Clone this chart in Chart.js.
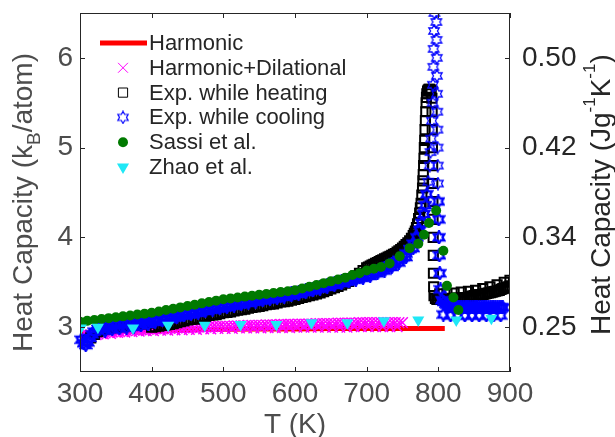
<!DOCTYPE html>
<html>
<head>
<meta charset="utf-8">
<script src="https://cdn.jsdelivr.net/npm/chart.js@4/dist/chart.umd.min.js"></script>
<style>
  html, body { margin: 0; padding: 0; background: #fff; }
</style>
</head>
<body>
<canvas id="chart" width="615" height="437"></canvas>
<script>
// Heat capacity vs temperature, kB/atom (left) and J/g/K (right)

const FONT = '"Liberation Sans", Arial, Helvetica, sans-serif';

// axis ticks
const xTicks = [300, 400, 500, 600, 700, 800, 900];
const yTicks = [3, 4, 5, 6];
const rightTickLabels = ['0.25', '0.34', '0.42', '0.50'];

// Harmonic (line)
const harmT = [300, 350, 400, 450, 500, 550, 600, 650, 700, 750, 809];
const harmC = [2.93, 2.95, 2.96, 2.97, 2.975, 2.98, 2.98, 2.985, 2.985, 2.985, 2.985];

// Harmonic+Dilational (two rows of the dense band)
const hdT = [300, 305, 310, 315, 320, 325, 330, 335, 340, 345, 350, 355, 360, 365, 370, 375, 380, 385, 390, 395,
  400, 405, 410, 415, 420, 425, 430, 435, 440, 445, 450, 455, 460, 465, 470, 475, 480, 485, 490, 495,
  500, 505, 510, 515, 520, 525, 530, 535, 540, 545, 550, 555, 560, 565, 570, 575, 580, 585, 590, 595,
  600, 605, 610, 615, 620, 625, 630, 635, 640, 645, 650, 655, 660, 665, 670, 675, 680, 685, 690, 695,
  700, 705, 710, 715, 720, 725, 730, 735, 740, 745, 750];
const hdC = [2.89, 2.90, 2.91, 2.915, 2.92, 2.925, 2.93, 2.935, 2.94, 2.945, 2.95, 2.95, 2.955, 2.96, 2.96, 2.965, 2.965, 2.97, 2.97, 2.975,
  2.975, 2.98, 2.98, 2.98, 2.985, 2.985, 2.985, 2.99, 2.99, 2.99, 2.995, 2.995, 2.995, 3.0, 3.0, 3.0, 3.005, 3.005, 3.005, 3.01,
  3.01, 3.01, 3.01, 3.015, 3.015, 3.015, 3.015, 3.02, 3.02, 3.02, 3.02, 3.02, 3.025, 3.025, 3.025, 3.025, 3.03, 3.03, 3.03, 3.03,
  3.03, 3.035, 3.035, 3.035, 3.035, 3.035, 3.04, 3.04, 3.04, 3.04, 3.04, 3.04, 3.045, 3.045, 3.045, 3.045, 3.045, 3.045, 3.05, 3.05,
  3.05, 3.05, 3.05, 3.05, 3.05, 3.05, 3.05, 3.05, 3.05, 3.05, 3.05];
const hdT2 = [302.5, 312.5, 322.5, 332.5, 342.5, 352.5, 362.5, 372.5, 382.5, 392.5, 402.5, 412.5, 422.5, 432.5, 442.5,
  452.5, 462.5, 472.5, 482.5, 492.5, 502.5, 512.5, 522.5, 532.5, 542.5, 552.5, 562.5, 572.5, 582.5, 592.5,
  602.5, 612.5, 622.5, 632.5, 642.5, 652.5, 662.5, 672.5, 682.5, 692.5, 702.5, 712.5, 722.5, 732.5, 742.5];
const hdC2 = [2.89, 2.905, 2.915, 2.925, 2.93, 2.94, 2.945, 2.95, 2.955, 2.96, 2.96, 2.965, 2.965, 2.97, 2.97,
  2.975, 2.975, 2.98, 2.98, 2.985, 2.985, 2.985, 2.99, 2.99, 2.99, 2.99, 2.995, 2.995, 2.995, 2.995,
  3.0, 3.0, 3.0, 3.0, 3.0, 3.0, 3.0, 3.0, 3.005, 3.005, 3.005, 3.005, 3.005, 3.005, 3.005];

// Exp. while heating
const heatT = [310, 315, 320, 325, 330, 335, 340, 345, 350, 355, 360, 365, 370, 375, 380, 385, 390, 395,
  400, 405, 410, 415, 420, 425, 430, 435, 440, 445, 450, 455, 460, 465, 470, 475, 480, 485, 490, 495,
  500, 505, 510, 515, 520, 525, 530, 535, 540, 545, 550, 555, 560, 565, 570, 575, 580, 585, 590, 595,
  600, 605, 610, 615, 620, 625, 630, 635, 640, 645, 650, 655, 660, 665, 670, 675, 680, 685, 690, 695,
  700, 705, 710, 715, 720, 725, 730, 735, 740, 745, 750, 755, 760, 765, 768, 771, 774, 776, 778, 779,
  780, 781, 782, 783, 784, 786, 788, 790, 791, 791.3, 791.5, 791.7, 792, 792.2, 792.4, 792.6, 792.8, 793, 793.2, 793.5,
  794, 796, 798, 800, 802.5, 805, 807.5, 810, 812.5, 815, 817.5, 820, 822.5, 825, 827.5, 830, 832.5, 835, 837.5, 840,
  842.5, 845, 847.5, 850, 852.5, 855, 857.5, 860, 862.5, 865, 867.5, 870, 872.5, 875, 877.5, 880, 882.5, 885, 887.5, 890,
  892.5, 895, 897.5, 900];
const heatC = [2.85, 2.88, 2.92, 2.95, 2.97, 2.98, 2.99, 2.995, 3.00, 3.005, 3.01, 3.015, 3.02, 3.025, 3.03, 3.035, 3.04, 3.045,
  3.00, 3.005, 3.01, 3.02, 3.025, 3.03, 3.04, 3.05, 3.06, 3.07, 3.08, 3.085, 3.09, 3.10, 3.11, 3.12, 3.13, 3.135, 3.14, 3.15,
  3.16, 3.165, 3.17, 3.18, 3.19, 3.195, 3.20, 3.21, 3.22, 3.225, 3.23, 3.24, 3.25, 3.255, 3.26, 3.27, 3.28, 3.285, 3.29, 3.30,
  3.31, 3.32, 3.33, 3.34, 3.35, 3.36, 3.37, 3.38, 3.395, 3.41, 3.425, 3.44, 3.455, 3.47, 3.49, 3.51, 3.54, 3.57, 3.60, 3.63,
  3.66, 3.68, 3.70, 3.72, 3.74, 3.76, 3.78, 3.80, 3.82, 3.85, 3.88, 3.92, 3.96, 4.02, 4.07, 4.15, 4.27, 4.38, 4.55, 4.70,
  4.88, 5.08, 5.30, 5.50, 5.60, 5.64, 5.65, 5.63, 5.55, 5.40, 5.20, 5.00, 4.80, 4.60, 4.40, 4.20, 4.00, 3.80, 3.60, 3.45,
  3.35, 3.32, 3.31, 3.31, 3.31, 3.31, 3.31, 3.31, 3.31, 3.31, 3.315, 3.32, 3.32, 3.32, 3.32, 3.32, 3.325, 3.33, 3.33, 3.33,
  3.335, 3.34, 3.345, 3.35, 3.355, 3.36, 3.36, 3.36, 3.365, 3.37, 3.375, 3.38, 3.385, 3.39, 3.395, 3.40, 3.405, 3.41, 3.42, 3.43,
  3.435, 3.44, 3.45, 3.46];
const heatT2 = [702.5, 707.5, 712.5, 717.5, 722.5, 727.5, 732.5, 737.5, 742.5, 747.5, 752.5, 757.5, 762.5, 766.5, 769.5,
  772.5, 775, 777, 778.5, 779.5, 780.5, 781.5, 782.5, 783.5, 785, 787, 789,
  802, 812, 822, 832, 842, 852, 862, 872, 882, 892, 900];
const heatC2 = [3.67, 3.69, 3.71, 3.73, 3.75, 3.77, 3.79, 3.81, 3.835, 3.865, 3.90, 3.94, 3.99, 4.045, 4.11,
  4.21, 4.33, 4.47, 4.63, 4.80, 5.0, 5.2, 5.4, 5.56, 5.63, 5.65, 5.64,
  3.37, 3.37, 3.38, 3.39, 3.40, 3.41, 3.43, 3.45, 3.47, 3.50, 3.52];

// Exp. while cooling
const coolT = [302, 305, 308, 311, 314, 317, 320, 325, 330, 335, 340, 345, 350, 355, 360, 365, 370, 375, 380, 385, 390, 395,
  400, 405, 410, 415, 420, 425, 430, 435, 440, 445, 450, 455, 460, 465, 470, 475, 480, 485, 490, 495,
  500, 505, 510, 515, 520, 525, 530, 535, 540, 545, 550, 555, 560, 565, 570, 575, 580, 585, 590, 595,
  600, 605, 610, 615, 620, 625, 630, 635, 640, 645, 650, 655, 660, 665, 670, 675, 680, 685, 690, 695,
  700, 705, 710, 715, 720, 725, 730, 735, 740, 745, 750, 755, 760, 765, 770, 774, 777, 780, 782, 784,
  786, 788, 789, 790, 791, 792, 792.5, 793, 793.5, 794, 794.5, 795,
  797, 797.2, 797.5, 797.8, 798, 798.2, 798.5, 798.7, 799, 799.2, 799.5, 800, 800.5, 801, 801.5, 802, 803,
  805, 807.5, 810, 812.5, 815, 817.5, 820, 822.5, 825, 827.5, 830, 832.5, 835, 837.5, 840, 842.5, 845, 847.5,
  850, 852.5, 855, 857.5, 860, 862.5, 865, 867.5, 870, 872.5, 875, 877.5, 880, 882.5, 885, 887.5, 890];
const coolC = [2.86, 2.82, 2.80, 2.83, 2.88, 2.92, 2.95, 2.98, 3.00, 3.01, 3.02, 3.025, 3.03, 3.035, 3.04, 3.045, 3.05, 3.055, 3.06, 3.065, 3.07, 3.075,
  3.08, 3.085, 3.09, 3.10, 3.105, 3.11, 3.12, 3.13, 3.14, 3.15, 3.16, 3.165, 3.17, 3.18, 3.19, 3.20, 3.21, 3.215, 3.22, 3.23,
  3.24, 3.245, 3.25, 3.26, 3.27, 3.275, 3.28, 3.29, 3.30, 3.305, 3.31, 3.32, 3.33, 3.335, 3.34, 3.345, 3.35, 3.36, 3.37, 3.375,
  3.38, 3.39, 3.40, 3.41, 3.42, 3.43, 3.44, 3.45, 3.46, 3.47, 3.48, 3.49, 3.50, 3.51, 3.52, 3.53, 3.54, 3.55, 3.56, 3.57,
  3.58, 3.595, 3.61, 3.625, 3.64, 3.66, 3.68, 3.70, 3.72, 3.75, 3.78, 3.82, 3.87, 3.93, 4.00, 4.08, 4.16, 4.26, 4.36, 4.48,
  4.62, 4.80, 4.95, 5.10, 5.30, 5.50, 5.70, 5.90, 6.10, 6.30, 6.50, 6.62,
  6.62, 6.40, 6.20, 6.00, 5.80, 5.60, 5.40, 5.20, 5.00, 4.80, 4.60, 4.40, 4.20, 4.00, 3.80, 3.60, 3.42,
  3.30, 3.28, 3.26, 3.25, 3.24, 3.235, 3.23, 3.225, 3.22, 3.22, 3.22, 3.22, 3.22, 3.22, 3.22, 3.22, 3.22, 3.22,
  3.22, 3.22, 3.22, 3.22, 3.22, 3.22, 3.22, 3.22, 3.22, 3.22, 3.22, 3.22, 3.22, 3.22, 3.22, 3.22, 3.22];
const coolT2 = [335, 345, 355, 365, 375, 385, 395, 405, 415, 425, 435, 445, 455, 465, 475, 485, 495,
  505, 515, 525, 535, 545, 555, 565, 575, 585, 595, 605, 615, 625, 635, 645, 655, 665, 675, 685, 695,
  705, 715, 725, 735, 745, 755, 765,
  807, 817, 827, 837, 847, 857, 867, 877, 887];
const coolC2 = [2.96, 2.975, 2.985, 2.995, 3.005, 3.02, 3.035, 3.06, 3.075, 3.09, 3.11, 3.13, 3.145, 3.16, 3.18, 3.195, 3.21,
  3.225, 3.24, 3.255, 3.27, 3.285, 3.30, 3.315, 3.325, 3.34, 3.355, 3.37, 3.39, 3.41, 3.43, 3.45, 3.47, 3.49, 3.51, 3.53, 3.55,
  3.57, 3.60, 3.63, 3.67, 3.72, 3.78, 3.88,
  3.14, 3.13, 3.13, 3.13, 3.13, 3.13, 3.13, 3.13, 3.13];

// Sassi et al.
const sassiT = [300, 310, 320, 330, 340, 350, 360, 370, 380, 390, 400, 410, 420, 430, 440, 450, 460, 470, 480, 490,
  500, 510, 520, 530, 540, 550, 560, 570, 580, 590, 600, 610, 620, 630, 640, 650, 660, 670, 680, 690,
  700, 710, 720, 732, 746, 760, 772, 780, 787, 797, 807, 812, 821, 828];
const sassiC = [3.06, 3.07, 3.08, 3.09, 3.10, 3.11, 3.12, 3.13, 3.14, 3.15, 3.16, 3.175, 3.19, 3.205, 3.22, 3.235, 3.25, 3.265, 3.28, 3.295,
  3.31, 3.32, 3.33, 3.34, 3.35, 3.36, 3.37, 3.38, 3.39, 3.40, 3.41, 3.43, 3.45, 3.47, 3.49, 3.51, 3.53, 3.55, 3.58, 3.60,
  3.63, 3.65, 3.67, 3.71, 3.79, 3.88, 3.93, 4.03, 4.16, 4.30, 3.85, 3.46, 3.33, 3.19];

// Zhao et al.
const zhaoT = [301, 325, 374, 423, 474, 524, 574, 623, 673, 724, 772, 825, 874];
const zhaoC = [2.99, 3.00, 2.99, 3.02, 3.02, 3.03, 3.03, 3.05, 3.05, 3.07, 3.08, 3.08, 3.10];

const pts = (xs, ys) => xs.map((x, i) => ({ x: x, y: ys[i] }));

// MATLAB-like hexagram marker (outline)
function makeHexagram(size, color, lw) {
    const c = document.createElement('canvas');
    c.width = size; c.height = size;
    const g = c.getContext('2d');
    const R = size / 2 - 1, r = R / Math.sqrt(3), cx = size / 2, cy = size / 2;
    g.beginPath();
    for (let i = 0; i < 12; i++) {
        const ang = -Math.PI / 2 + i * Math.PI / 6;
        const rad = i % 2 ? r : R;
        const px = cx + rad * Math.cos(ang), py = cy + rad * Math.sin(ang);
        if (i === 0) g.moveTo(px, py); else g.lineTo(px, py);
    }
    g.closePath();
    g.strokeStyle = color;
    g.lineWidth = lw;
    g.stroke();
    return c;
}
const starDense = makeHexagram(14, '#0000ff', 2.3);   // overlapping markers in the dense band
const starThin = makeHexagram(14, '#0000ff', 1.3);    // isolated markers in the peak column
const starStyle = c => (c.raw && c.raw.y > 4.5 ? starThin : starDense);

const datasets = [
    { label: 'Harmonic', data: pts(harmT, harmC), showLine: true, borderColor: '#ff0000', borderWidth: 5,
      pointRadius: 0, order: 6 },
    { label: 'Harmonic+Dilational', data: pts(hdT, hdC).concat(pts(hdT2, hdC2)), pointStyle: 'crossRot', pointRadius: 7.5,
      borderColor: '#ff00ff', backgroundColor: '#ff00ff', borderWidth: 1.5, order: 5 },
    { label: 'Exp. while heating', data: pts(heatT, heatC).concat(pts(heatT2, heatC2)), pointStyle: 'rect', pointRadius: 6.5,
      borderColor: '#000000', backgroundColor: 'rgba(0,0,0,0)', borderWidth: 2, order: 4 },
    { label: 'Exp. while cooling', data: pts(coolT, coolC).concat(pts(coolT2, coolC2)), pointStyle: starStyle, pointRadius: 7,
      borderColor: '#0000ff', backgroundColor: '#0000ff', order: 3,
      clip: { left: 10, right: 10, top: 0, bottom: 10 } },
    { label: 'Sassi et al.', data: pts(sassiT, sassiC), pointStyle: 'circle', pointRadius: 5,
      borderColor: '#007a00', backgroundColor: '#007a00', borderWidth: 0, order: 2 },
    { label: 'Zhao et al.', data: pts(zhaoT, zhaoC), pointStyle: 'triangle', rotation: 180, pointRadius: 7,
      borderColor: '#1fe8f6', backgroundColor: '#1fe8f6', borderWidth: 0, order: 1 }
];

// legend marker overrides (thin outlines as in the legend box)
const legendStyle = { 1: { borderWidth: 1, pointRadius: 7 }, 2: { borderWidth: 1 }, 3: { pointStyle: makeHexagram(14, '#0000ff', 1.2) } };

// text with sub/superscripts, drawn rotated, starting at (x0, y0)
function drawRich(ctx, parts, x0, y0, rot, color) {
    ctx.save();
    ctx.translate(x0, y0);
    ctx.rotate(rot);
    ctx.fillStyle = color;
    ctx.textBaseline = 'alphabetic';
    ctx.textAlign = 'left';
    let x = 0;
    parts.forEach(p => {
        ctx.font = p.size + 'px ' + FONT;
        ctx.fillText(p.text, x, p.dy || 0);
        x += ctx.measureText(p.text).width;
    });
    ctx.restore();
}

const overlay = {
    id: 'overlay',
    afterDraw(chart) {
        const ctx = chart.ctx;
        const a = chart.chartArea;
        const sx = chart.scales.x, sy = chart.scales.y;
        ctx.save();

        // box and inward ticks
        ctx.strokeStyle = '#262626';
        ctx.lineWidth = 1;
        ctx.strokeRect(a.left + 0.5, a.top + 0.5, a.right - a.left - 1, a.bottom - a.top - 1);
        ctx.beginPath();
        xTicks.forEach(v => {
            const px = Math.round(sx.getPixelForValue(v)) + 0.5;
            ctx.moveTo(px, a.bottom); ctx.lineTo(px, a.bottom - 5);
            ctx.moveTo(px, a.top); ctx.lineTo(px, a.top + 5);
        });
        yTicks.forEach(v => {
            const py = Math.round(sy.getPixelForValue(v)) + 0.5;
            ctx.moveTo(a.left, py); ctx.lineTo(a.left + 5, py);
            ctx.moveTo(a.right, py); ctx.lineTo(a.right - 5, py);
        });
        ctx.stroke();

        // axis titles
        drawRich(ctx, [
            { text: 'Heat Capacity (k', size: 28 },
            { text: 'B', size: 19, dy: 8 },
            { text: '/atom)', size: 28 }
        ], 32, 352, -Math.PI / 2, '#4d4d4d');
        drawRich(ctx, [
            { text: 'Heat Capacity (Jg', size: 28 },
            { text: '-1', size: 17, dy: -15 },
            { text: 'K', size: 28 },
            { text: '-1', size: 17, dy: -15 },
            { text: ')', size: 28 }
        ], 610, 335, -Math.PI / 2, '#262626');
        ctx.fillStyle = '#4d4d4d';
        ctx.font = '28px ' + FONT;
        ctx.textAlign = 'center';
        ctx.textBaseline = 'alphabetic';
        ctx.fillText('T (K)', (a.left + a.right) / 2, 433);

        // legend
        const lx = 123, tx = 149, ly0 = 43, step = 24.8;
        ctx.font = '22px ' + FONT;
        ctx.textAlign = 'left';
        ctx.textBaseline = 'middle';
        datasets.forEach((ds, i) => {
            const y = ly0 + i * step;
            const o = Object.assign({}, ds, legendStyle[i] || {});
            if (o.showLine) {
                ctx.strokeStyle = o.borderColor;
                ctx.lineWidth = o.borderWidth;
                ctx.beginPath();
                ctx.moveTo(100, y); ctx.lineTo(147, y);
                ctx.stroke();
            } else {
                ctx.strokeStyle = o.borderColor;
                ctx.fillStyle = o.pointStyle === 'rect' ? '#ffffff' : o.backgroundColor;
                ctx.lineWidth = o.borderWidth || 1;
                Chart.helpers.drawPoint(ctx, {
                    pointStyle: o.pointStyle, radius: o.pointRadius,
                    rotation: o.rotation || 0, borderWidth: o.borderWidth || 0
                }, lx, y);
            }
            ctx.fillStyle = '#262626';
            ctx.fillText(o.label, tx, y + 1);
        });
        ctx.restore();
    }
};

const noPad = s => { s.paddingTop = 0; s.paddingBottom = 0; s.paddingLeft = 0; s.paddingRight = 0; };
const setTicks = s => { s.ticks = yTicks.map(v => ({ value: v })); };

new Chart(document.getElementById('chart'), {
    type: 'scatter',
    data: { datasets: datasets },
    options: {
        responsive: false,
        animation: false,
        events: [],
        layout: { padding: { top: 13, left: 0, right: 0, bottom: 0 } },
        plugins: { legend: { display: false }, tooltip: { enabled: false } },
        scales: {
            x: {
                type: 'linear', position: 'bottom', min: 300, max: 900,
                ticks: { stepSize: 100, padding: 5, color: '#4d4d4d', font: { family: FONT, size: 28 } },
                grid: { display: false, drawTicks: false },
                border: { display: false },
                afterFit: s => { s.height = 65; noPad(s); }
            },
            y: {
                type: 'linear', position: 'left', min: 2.5, max: 6.5,
                afterBuildTicks: setTicks,
                ticks: { padding: 7, color: '#4d4d4d', font: { family: FONT, size: 28 } },
                grid: { display: false, drawTicks: false },
                border: { display: false },
                afterFit: s => { s.width = 80; noPad(s); }
            },
            y2: {
                type: 'linear', position: 'right', min: 2.5, max: 6.5,
                afterBuildTicks: setTicks,
                ticks: { padding: 12, color: '#262626', font: { family: FONT, size: 28 },
                         callback: (v, i) => rightTickLabels[i] },
                grid: { display: false, drawTicks: false },
                border: { display: false },
                afterFit: s => { s.width = 105; noPad(s); }
            }
        }
    },
    plugins: [overlay]
});
</script>
</body>
</html>
